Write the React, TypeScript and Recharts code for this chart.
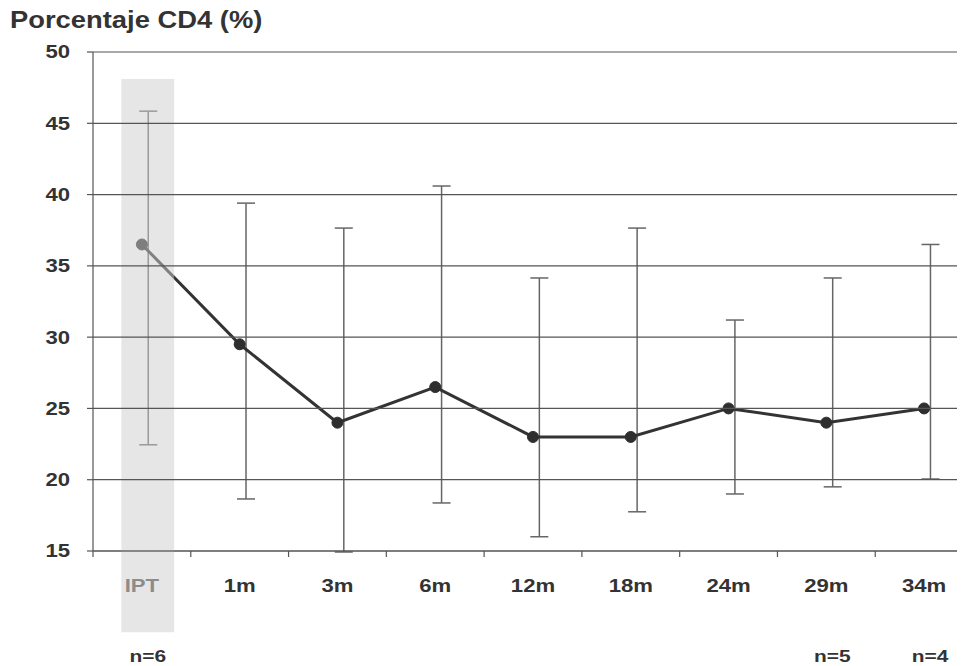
import React from "react";
import {
  ComposedChart,
  Line,
  XAxis,
  YAxis,
  CartesianGrid,
  ErrorBar,
  ReferenceArea,
} from "recharts";

const categories = ["IPT", "1m", "3m", "6m", "12m", "18m", "24m", "29m", "34m"];
const means = [36.5, 29.5, 24, 26.5, 23, 23, 25, 24, 25];
const lows = [22.45, 18.65, 14.93, 18.37, 16.0, 17.75, 19.0, 19.5, 20.05];
const highs = [45.85, 39.4, 37.65, 40.6, 34.15, 37.65, 31.2, 34.15, 36.5];
const sampleLabels = ["n=6", "", "", "", "", "", "", "n=5", "n=4"];
const yTicks = [15, 20, 25, 30, 35, 40, 45, 50];
const title = "Porcentaje CD4 (%)";

const FONT = "'Liberation Sans', Arial, sans-serif";
const STRETCH = 1.23;
const INK = "#333";
const ERR_SHIFT = 0.065; // error bars sit a little right of the points

const data = categories.map((name, i) => ({
  idx: i,
  name,
  mean: means[i],
  err: [means[i] - lows[i], highs[i] - means[i]],
}));

// category centres plus the boundaries between them (tick marks)
const xTicks = [
  ...categories.flatMap((_, i) => [i - 0.5, i]),
  categories.length - 0.5,
];

const YTick = ({ x, y, payload }: any) => (
  <g transform={`translate(${x},${y})`}>
    <text
      transform={`scale(${STRETCH},1)`}
      textAnchor="end"
      dy="0.36em"
      fontFamily={FONT}
      fontWeight="bold"
      fontSize={18}
      fill={INK}
    >
      {payload.value}
    </text>
  </g>
);

const XTick = ({ x, y, payload }: any) => {
  const v = payload.value;
  if (!Number.isInteger(v)) {
    return <line x1={x} x2={x} y1={y} y2={y + 6} stroke="#555" strokeWidth={1.2} />;
  }
  return (
    <g>
      <g transform={`translate(${x},${y + 41})`}>
        <text
          transform={`scale(${STRETCH},1)`}
          textAnchor="middle"
          fontFamily={FONT}
          fontWeight="bold"
          fontSize={18}
          fill={v === 0 ? "#8c8c8c" : INK}
        >
          {categories[v]}
        </text>
      </g>
      <g transform={`translate(${x + 6},${y + 111})`}>
        <text
          transform={`scale(${STRETCH},1)`}
          textAnchor="middle"
          fontFamily={FONT}
          fontWeight="bold"
          fontSize={17}
          fill={INK}
        >
          {sampleLabels[v]}
        </text>
      </g>
    </g>
  );
};

export default function App() {
  return (
    <div
      style={{
        position: "relative",
        margin: "-8px 0 0 -8px",
        width: 965,
        height: 666,
        overflow: "hidden",
      }}
    >
      <div
        style={{
          position: "absolute",
          left: 10,
          top: 6,
          width: 260,
          fontFamily: FONT,
          fontWeight: "bold",
          fontSize: 24,
          color: INK,
          whiteSpace: "nowrap",
          transform: "scaleX(1.14)",
          transformOrigin: "left top",
        }}
      >
        {title}
      </div>
      <ComposedChart
        width={988}
        height={666}
        data={data}
        margin={{ top: 52, right: 15, left: 13, bottom: 0 }}
      >
        <XAxis
          xAxisId="main"
          dataKey="idx"
          type="number"
          domain={[-0.5, categories.length - 0.5]}
          ticks={xTicks}
          interval={0}
          tickLine={false}
          tickSize={0}
          tickMargin={0}
          tick={<XTick />}
          stroke="#555"
          strokeWidth={1.2}
          height={115}
          allowDataOverflow
        />
        <XAxis
          xAxisId="shift"
          dataKey="idx"
          type="number"
          domain={[-0.5 - ERR_SHIFT, categories.length - 0.5 - ERR_SHIFT]}
          height={1}
          hide
        />
        <YAxis
          type="number"
          domain={[15, 50]}
          ticks={yTicks}
          interval={0}
          width={80}
          tickSize={6}
          tickMargin={17}
          stroke="#555"
          strokeWidth={1.2}
          tick={<YTick />}
          allowDataOverflow
        />
        <CartesianGrid
          vertical={false}
          stroke="#555"
          strokeWidth={1.2}
          xAxisId="main"
          {...({ zIndex: 700 } as any)}
        />
        <Line
          xAxisId="shift"
          dataKey="mean"
          stroke="none"
          dot={false}
          activeDot={false}
          legendType="none"
          isAnimationActive={false}
        >
          <ErrorBar
            dataKey="err"
            direction="y"
            width={9}
            stroke="#666"
            strokeWidth={1.5}
            isAnimationActive={false}
          />
        </Line>
        <Line
          xAxisId="main"
          dataKey="mean"
          stroke="#333"
          strokeWidth={3}
          dot={{ r: 5.5, fill: "#2e2e2e", stroke: "#2e2e2e", strokeWidth: 1 }}
          activeDot={false}
          legendType="none"
          isAnimationActive={false}
        />
        <ReferenceArea
          xAxisId="main"
          x1={-0.21}
          x2={0.33}
          y1={9.3}
          y2={48.1}
          fill="#cdcdcd"
          fillOpacity={0.5}
          stroke="none"
          ifOverflow="visible"
          {...({ zIndex: 650 } as any)}
        />
      </ComposedChart>
    </div>
  );
}
